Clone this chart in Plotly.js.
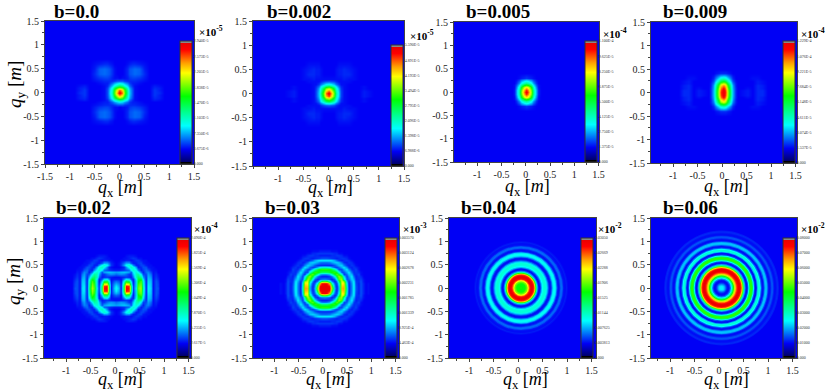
<!DOCTYPE html>
<html>
<head>
<meta charset="utf-8">
<script src="https://cdn.plot.ly/plotly-3.0.1.min.js"></script>
<style>body { margin: 0; background: #fff; }</style>
</head>
<body>
<div id="plot1" style="width:830px;height:391px;"></div>
<script>
const titles = ['b=0.0', 'b=0.002', 'b=0.005', 'b=0.009', 'b=0.02', 'b=0.03', 'b=0.04', 'b=0.06'];
const exponents = ['-5', '-5', '-4', '-4', '-4', '-3', '-2', '-2'];

// colorbar labels, bottom to top
const bar1 = ['0.000', '3.675E-6', '7.350E-6', '1.103E-5', '1.470E-5', '1.838E-5', '2.205E-5', '2.573E-5', '2.940E-5'];
const bar2 = ['0.000', '6.988E-6', '1.398E-5', '2.096E-5', '2.795E-5', '3.494E-5', '4.193E-5', '4.891E-5', '5.590E-5'];
const bar3 = ['0.000', '1.375E-5', '2.750E-5', '4.125E-5', '5.500E-5', '6.875E-5', '8.250E-5', '9.625E-5', '1.100E-4'];
const bar4 = ['0.000', '1.537E-5', '3.074E-5', '4.611E-5', '6.148E-5', '7.684E-5', '9.221E-5', '1.076E-4', '1.229E-4'];
const bar5 = ['0.000', '2.617E-5', '5.235E-5', '7.870E-5', '1.049E-4', '1.306E-4', '1.569E-4', '1.825E-4', '2.090E-4'];
const bar6 = ['0.000', '4.463E-4', '8.925E-4', '0.001339', '0.001785', '0.002231', '0.002678', '0.003124', '0.003570'];
const bar7 = ['0.000', '0.003813', '0.007625', '0.01144', '0.01525', '0.01906', '0.02288', '0.02669', '0.03050'];
const bar8 = ['0.000', '0.01000', '0.02000', '0.03000', '0.04000', '0.05000', '0.06000', '0.07000', '0.08000'];
const barLabels = [bar1, bar2, bar3, bar4, bar5, bar6, bar7, bar8];
const barTicks = [0, 12.5, 25, 37.5, 50, 62.5, 75, 87.5, 100];

// intensity in percent of the colorbar, one quadrant per panel (mirrored below)
const qxCoarse = [0, 0.05, 0.1, 0.15, 0.2, 0.25, 0.3, 0.4, 0.5, 0.6, 0.7, 0.8, 0.9];
const qyCoarse = [0, 0.05, 0.1, 0.15, 0.2, 0.25, 0.3, 0.4, 0.5, 0.6, 0.7];

const z1 = [
    [98,84,62,41,27,18,13,12,12,12,16,15,12],
    [86,76,58,39,26,18,13,12,12,12,16,14,12],
    [66,60,48,35,24,17,13,12,12,12,15,14,12],
    [46,42,35,28,20,15,13,12,12,12,14,13,12],
    [30,28,24,20,16,14,14,13,12,12,12,12,12],
    [18,18,16,15,15,15,15,14,13,12,12,12,12],
    [12,13,13,14,16,17,17,16,14,12,12,12,12],
    [12,12,13,15,18,19,20,19,15,12,12,12,12],
    [12,12,13,15,18,19,20,19,14,12,12,12,12],
    [12,12,12,13,14,15,15,14,13,12,12,12,12],
    [12,12,12,12,12,12,12,12,12,12,12,12,12],
];
const z2 = [
    [98,85,64,43,27,17,13,12,12,12,14,13,12],
    [88,78,60,40,26,17,13,12,12,12,14,13,12],
    [70,64,51,36,24,16,13,12,12,12,13,12,12],
    [50,46,39,30,20,15,13,12,12,12,13,12,12],
    [33,31,27,21,16,13,13,12,12,12,12,12,12],
    [19,18,17,15,13,13,13,13,12,12,12,12,12],
    [13,13,13,13,13,13,14,13,13,12,12,12,12],
    [12,12,12,13,14,14,15,15,13,12,12,12,12],
    [12,12,12,13,14,14,15,14,13,12,12,12,12],
    [12,12,12,12,13,13,13,13,12,12,12,12,12],
    [12,12,12,12,12,12,12,12,12,12,12,12,12],
];
const z3 = [
    [98,86,64,42,24,14,12,12,12,12,12,12,12],
    [92,82,62,41,24,14,12,12,12,12,12,12,12],
    [76,70,54,36,21,13,12,12,12,12,12,12,12],
    [58,54,43,30,18,13,12,12,12,12,12,12,12],
    [42,39,32,23,15,12,12,12,12,12,12,12,12],
    [28,26,22,17,13,12,12,12,12,12,12,12,12],
    [16,15,14,13,12,12,12,12,12,12,12,12,12],
    [12,12,12,12,12,12,12,12,12,12,12,12,12],
    [12,12,12,12,12,12,12,12,12,12,12,12,12],
    [12,12,12,12,12,12,12,12,12,12,12,12,12],
    [12,12,12,12,12,12,12,12,12,12,12,12,12],
];
const z4 = [
    [98,90,68,44,26,15,12,13,14,12,15,15,12],
    [98,88,67,44,26,15,12,13,14,12,15,15,12],
    [94,84,64,42,25,15,12,12,13,12,15,14,12],
    [84,76,58,39,24,14,12,12,12,12,15,14,12],
    [70,64,50,34,21,14,12,12,12,12,14,13,12],
    [54,50,40,28,18,13,12,12,12,12,14,13,12],
    [38,35,29,21,15,12,12,12,12,13,13,12,12],
    [15,15,14,13,12,12,12,12,12,12,12,12,12],
    [12,12,12,12,12,12,12,12,12,12,12,12,12],
    [12,12,12,12,12,12,12,12,12,12,12,12,12],
    [12,12,12,12,12,12,12,12,12,12,12,12,12],
];

const qxFine = [0, 0.05, 0.1, 0.15, 0.2, 0.25, 0.3, 0.35, 0.4, 0.45, 0.5, 0.55, 0.6, 0.65, 0.7, 0.75, 0.8, 0.85, 0.9];
const qyFine = [0, 0.05, 0.1, 0.15, 0.2, 0.25, 0.3, 0.35, 0.4, 0.45, 0.5, 0.55, 0.6, 0.65, 0.7, 0.75, 0.8, 0.85];

const z5 = [
    [32,26,13,50,95,92,48,15,30,62,68,40,14,30,28,13,18,18,12],
    [30,24,14,50,92,90,46,15,28,60,66,38,14,30,27,13,18,17,12],
    [26,22,14,44,75,72,38,14,28,58,64,37,14,29,27,13,18,17,12],
    [20,18,13,34,50,48,28,13,28,54,60,35,14,28,26,13,18,16,12],
    [14,14,13,22,30,28,18,14,30,50,52,30,14,27,25,13,17,15,12],
    [13,13,14,15,16,15,14,20,38,46,42,24,15,26,23,13,16,14,12],
    [20,22,23,22,20,16,16,26,38,40,30,17,17,24,20,13,15,13,12],
    [24,25,26,27,26,24,18,30,36,32,20,14,20,22,17,13,14,12,12],
    [14,14,15,16,18,20,30,36,32,22,14,16,20,18,14,13,13,12,12],
    [12,12,13,15,22,32,38,34,24,14,15,18,18,14,13,13,12,12,12],
    [12,13,16,24,32,36,32,22,14,14,17,17,14,13,13,12,12,12,12],
    [12,13,15,20,24,24,18,14,14,16,17,14,13,13,12,12,12,12,12],
    [12,12,13,13,14,14,13,14,16,16,14,13,13,12,12,12,12,12,12],
    [12,12,12,13,13,14,15,16,15,13,13,12,12,12,12,12,12,12,12],
    [12,12,12,12,13,14,14,14,13,12,12,12,12,12,12,12,12,12,12],
    [12,12,12,12,12,12,12,12,12,12,12,12,12,12,12,12,12,12,12],
];
const z6 = [
    [98,98,96,68,25,14,26,80,82,38,14,22,32,18,14,18,14,12,13],
    [98,98,94,60,22,14,27,78,80,36,14,22,32,18,14,18,14,12,13],
    [96,94,78,38,18,16,32,74,76,32,14,23,31,17,14,18,14,12,13],
    [60,56,38,22,14,20,44,72,66,26,15,25,30,16,15,18,13,12,12],
    [22,21,18,14,18,32,60,68,42,18,19,28,26,15,15,17,13,12,12],
    [14,14,16,20,32,52,66,58,30,16,23,30,20,14,16,15,12,12,12],
    [21,22,26,36,52,62,56,36,16,19,27,26,16,15,17,13,12,12,12],
    [46,46,50,56,58,52,36,18,17,24,30,20,15,16,15,13,12,12,12],
    [58,58,56,50,40,28,17,17,24,30,22,15,15,17,13,12,12,12,12],
    [36,35,32,26,18,16,19,25,30,23,16,14,16,15,13,12,12,12,12],
    [15,15,15,15,18,22,26,28,22,16,14,16,15,13,12,12,12,12,12],
    [20,20,21,24,27,28,26,20,15,14,16,15,13,12,12,12,12,12,12],
    [30,30,30,29,25,20,16,14,15,16,15,13,12,12,12,12,12,12,12],
    [18,18,17,16,15,14,15,16,16,15,13,12,12,12,12,12,12,12,12],
    [14,14,14,15,15,16,16,15,13,13,12,12,12,12,12,12,12,12,12],
    [16,16,16,16,15,15,13,13,12,12,12,12,12,12,12,12,12,12,12],
    [14,14,14,13,13,13,12,12,12,12,12,12,12,12,12,12,12,12,12],
    [12,12,12,12,12,12,12,12,12,12,12,12,12,12,12,12,12,12,12],
];

// b=0.04 and b=0.06 are plain rings, read along the radius
const ringRadii = [
    0.02, 0.04, 0.06, 0.08, 0.10, 0.12, 0.14, 0.16, 0.18, 0.20,
    0.22, 0.24, 0.26, 0.28, 0.30, 0.32, 0.34, 0.36, 0.38, 0.40,
    0.42, 0.44, 0.46, 0.48, 0.50, 0.52, 0.54, 0.56, 0.58, 0.60,
    0.62, 0.64, 0.66, 0.68, 0.70, 0.72, 0.74, 0.76, 0.78, 0.80,
    0.82, 0.84, 0.86, 0.88, 0.90, 0.92, 0.94, 0.96, 0.98, 1.00,
    1.02, 1.04, 1.06, 1.08, 1.10, 1.12, 1.14, 1.16, 1.18, 1.20,
];
const ring7 = [
    56, 55, 54, 54, 56, 60, 64, 74, 84, 92,
    96, 98, 96, 90, 78, 58, 38, 22, 14, 13,
    17, 25, 31, 34, 35, 35, 33, 27, 20, 14,
    13, 15, 22, 29, 32, 32, 28, 20, 14, 13,
    15, 19, 20, 18, 14, 13, 13, 14, 13, 12,
];
const ring8 = [
    30, 30, 28, 24, 19, 15, 13, 13, 16, 22,
    32, 44, 56, 68, 78, 86, 92, 97, 98, 96,
    90, 78, 60, 40, 24, 15, 13, 18, 32, 48,
    58, 58, 48, 32, 18, 13, 14, 25, 34, 36,
    31, 20, 14, 13, 18, 25, 27, 25, 17, 13,
    13, 15, 18, 18, 15, 13, 13, 14, 15, 14,
];
const blank = [[12, 12], [12, 12]];

// pixel boxes of the eight panels: left, right, top, bottom
const boxes = [
    [45, 194, 21, 164], [253, 404, 21, 166], [454, 599, 22, 162], [651, 797, 22, 163],
    [44, 191, 218, 358], [253, 399, 218, 358], [449, 596, 218, 358], [651, 797, 218, 358],
];
const bars = [
    [180, 41, 164], [391, 45, 166], [585, 41, 162], [783, 41, 163],
    [177, 238, 358], [385, 238, 358], [581, 238, 358], [783, 238, 358],
];
const xRanges = [
    [-1.5, 1.5], [-1.5, 1.5], [-1.48, 1.51], [-1.45, 1.53],
    [-1.45, 1.55], [-1.44, 1.57], [-1.41, 1.59], [-1.39, 1.59],
];
const centers = [0, 0, 0.01, 0.02, 0.02, 0.03, 0.06, 0.05];
const titlePos = [[52, 11], [265, 11], [464, 11], [661, 11], [54, 207], [263, 207], [459, 207], [661, 207]];
const expPos = [[197, 31], [408, 35], [601, 33], [799, 33], [192, 228], [401, 228], [596, 228], [799, 228]];
const xTitlePos = [[120, 188], [330, 188], [527, 187], [726, 187], [120, 380], [328, 380], [525, 380], [726, 380]];
const yTitlePos = {0: [16, 85], 4: [15, 282]};

const W = 830, H = 391;
const jet = [
    [0, '#000000'], [0.02, '#000000'], [0.02, '#000070'], [0.12, '#0000f5'],
    [0.31, '#00ffff'], [0.42, '#00ff90'], [0.55, '#00ff00'], [0.74, '#ffff00'],
    [0.82, '#ffa000'], [0.93, '#ff0000'], [0.985, '#e80000'], [0.985, '#888888'], [1, '#888888'],
];

function mirrorAxis(half, shift) {
    const neg = half.slice(1).reverse().map(v => -v);
    return neg.concat(half).map(v => v + shift);
}
function mirrorRows(rows) {
    const wide = rows.map(r => r.slice(1).reverse().concat(r));
    return wide.slice(1).reverse().concat(wide);
}
function colorbar(i) {
    const b = bars[i];
    return {
        x: b[0] / W, xanchor: 'left', xpad: 0,
        y: 1 - b[2] / H, yanchor: 'bottom', ypad: 0,
        len: b[2] - b[1], lenmode: 'pixels',
        thickness: 12, thicknessmode: 'pixels',
        outlinewidth: 1, outlinecolor: '#333', borderwidth: 0,
        tickmode: 'array', tickvals: barTicks, ticktext: barLabels[i],
        ticks: '', tickfont: {family: 'Liberation Serif', size: 4, color: '#333'},
    };
}
function label(pos, text, size, extra) {
    return Object.assign({
        xref: 'paper', yref: 'paper', x: pos[0] / W, y: 1 - pos[1] / H,
        xanchor: 'left', yanchor: 'middle', showarrow: false, text: text,
        font: {family: 'Liberation Serif', size: size, color: '#000'},
    }, extra);
}

const grids = [
    [z1, qxCoarse, qyCoarse], [z2, qxCoarse, qyCoarse], [z3, qxCoarse, qyCoarse], [z4, qxCoarse, qyCoarse],
    [z5, qxFine, qyFine.slice(0, z5.length)], [z6, qxFine, qyFine],
];
const rings = {6: ring7, 7: ring8};

const data = [];
const layout = {
    width: W, height: H, autosize: false,
    margin: {l: 0, r: 0, t: 0, b: 0, autoexpand: false},
    paper_bgcolor: '#fff',
    plot_bgcolor: '#0000f5',
    font: {family: 'Liberation Serif', color: '#222'},
    showlegend: false,
    annotations: [],
};

const tickVals = [-1.5, -1, -0.5, 0, 0.5, 1, 1.5];
const tickText = ['-1.5', '-1', '-0.5', '0', '0.5', '1', '1.5'];

titles.forEach((t, i) => {
    const n = i + 1;
    const box = boxes[i];
    const heat = {
        type: 'heatmap', xaxis: 'x' + n, yaxis: 'y' + n,
        colorscale: jet, zmin: 0, zmax: 100, zsmooth: 'best',
        hoverinfo: 'skip', colorbar: colorbar(i),
    };
    if (grids[i]) {
        heat.z = mirrorRows(grids[i][0]);
        heat.x = mirrorAxis(grids[i][1], centers[i]);
        heat.y = mirrorAxis(grids[i][2], 0);
    } else {
        heat.z = blank;
        heat.x = [-1.5, 1.6];
        heat.y = [-1.5, 1.5];
    }
    data.push(heat);

    const axisStyle = {
        showgrid: false, zeroline: false, showline: true, mirror: true,
        linecolor: '#444', linewidth: 1,
        ticks: 'outside', ticklen: 3, tickwidth: 1, tickcolor: '#444',
        minor: {dtick: 0.25, ticks: 'outside', ticklen: 2, tickcolor: '#444'},
        tickmode: 'array',
        tickfont: {family: 'Liberation Serif', size: 10, color: '#222'},
    };
    // only the first panel labels -1.5 on its x axis
    const skip = i === 0 ? 0 : 1;
    layout['xaxis' + n] = Object.assign({}, axisStyle, {
        domain: [box[0] / W, box[1] / W], anchor: 'y' + n, range: xRanges[i],
        tickvals: tickVals.slice(skip), ticktext: tickText.slice(skip),
    });
    layout['yaxis' + n] = Object.assign({}, axisStyle, {
        domain: [1 - box[3] / H, 1 - box[2] / H], anchor: 'x' + n, range: [-1.5, 1.5],
        tickvals: tickVals, ticktext: tickText,
    });

    layout.annotations.push(label(titlePos[i], '<b>' + t + '</b>', 19));
    layout.annotations.push(label(expPos[i], '<b>×10<sup>' + exponents[i] + '</sup></b>', 11));
    layout.annotations.push(label(xTitlePos[i], '<i>q</i><sub>x</sub> [<i>m</i>]', 18, {xanchor: 'center'}));
    if (yTitlePos[i]) {
        layout.annotations.push(label(yTitlePos[i], '<i>q</i><sub>y</sub> [<i>m</i>]', 19, {xanchor: 'center', textangle: -90}));
    }

    if (rings[i]) {
        // discs from the outside in, so the rings have no seams
        const vals = rings[i];
        const radii = ringRadii.slice(0, vals.length);
        const name = i === 6 ? 'polar' : 'polar2';
        data.push({
            type: 'barpolar', subplot: name,
            r: radii.slice().reverse(),
            theta: radii.map(() => 0),
            width: radii.map(() => 360),
            marker: {color: vals.slice().reverse(), colorscale: jet, cmin: 0, cmax: 100, line: {width: 0}},
            hoverinfo: 'skip',
        });
        const maxR = 1.3;
        const pxPerUnit = ((box[1] - box[0]) / (xRanges[i][1] - xRanges[i][0]) + (box[3] - box[2]) / 3) / 2;
        const half = maxR * pxPerUnit;
        const cx = box[0] + (centers[i] - xRanges[i][0]) / (xRanges[i][1] - xRanges[i][0]) * (box[1] - box[0]);
        const cy = (box[2] + box[3]) / 2;
        layout[name] = {
            domain: {x: [(cx - half) / W, (cx + half) / W], y: [1 - (cy + half) / H, 1 - (cy - half) / H]},
            bgcolor: 'rgba(0,0,0,0)', barmode: 'overlay',
            radialaxis: {visible: false, range: [0, maxR]},
            angularaxis: {visible: false},
        };
    }
});

Plotly.newPlot('plot1', data, layout, {displayModeBar: false, staticPlot: true});
</script>
</body>
</html>
